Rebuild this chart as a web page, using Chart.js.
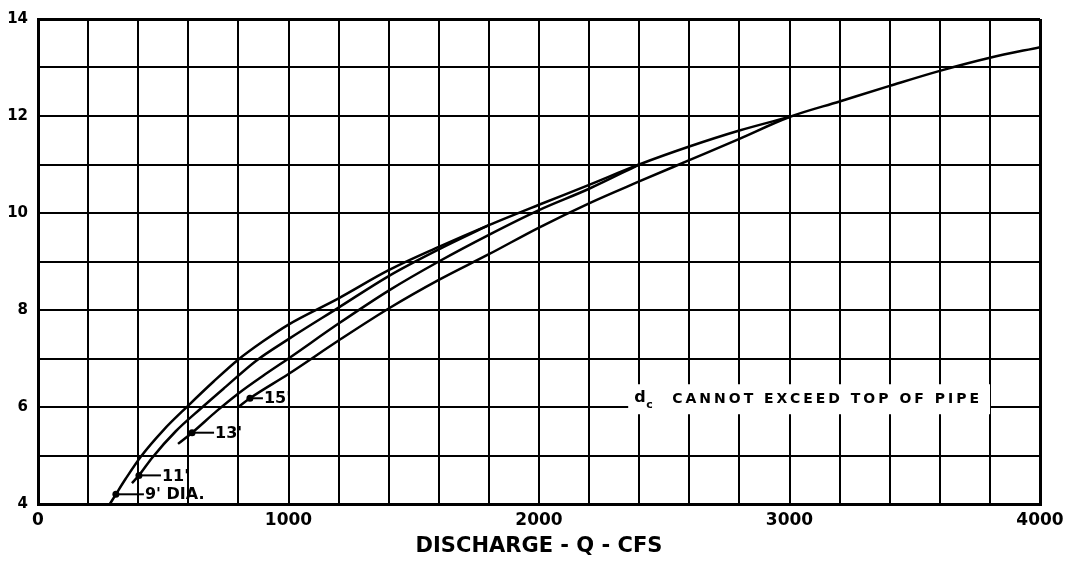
<!DOCTYPE html>
<html>
<head>
<meta charset="utf-8">
<script src="https://cdn.jsdelivr.net/npm/chart.js@4/dist/chart.umd.min.js"></script>
<style>
  html, body { margin: 0; padding: 0; background: #fff; }
  #wrap { width: 1073px; height: 561px; }
</style>
</head>
<body>
<div id="wrap"><canvas id="chart"></canvas></div>
<script>
// Critical depth vs discharge for circular pipes

const pipeLabels = ["9' DIA.", "11'", "13'", "15'"];

// discharge (cfs) and depth (ft) along each curve
const q9  = [287, 311, 350, 411, 500, 600, 700, 800, 900, 1000, 1200, 1400, 1600, 1800, 2000, 2200, 2400, 2600, 2800, 3000];
const d9  = [4.0, 4.2, 4.52, 4.98, 5.52, 6.03, 6.52, 6.98, 7.36, 7.7, 8.24, 8.82, 9.3, 9.75, 10.17, 10.58, 11.0, 11.37, 11.7, 11.98];

const q11 = [375, 403, 455, 550, 650, 750, 870, 1000, 1200, 1400, 1600, 1800];
const d11 = [4.43, 4.59, 4.95, 5.5, 5.97, 6.42, 6.95, 7.4, 8.05, 8.7, 9.25, 9.75];

const q13 = [559, 615, 714, 800, 900, 1000, 1200, 1400, 1600, 1800, 2000, 2200, 2400];
const d13 = [5.24, 5.47, 5.92, 6.28, 6.65, 7.0, 7.72, 8.4, 9.0, 9.55, 10.06, 10.5, 11.0];

const q15 = [800, 846, 1000, 1200, 1400, 1600, 1800, 2000, 2200, 2400, 2600, 2800, 3000, 3200, 3400, 3600, 3800, 4000];
const d15 = [6.0, 6.18, 6.68, 7.37, 8.03, 8.62, 9.15, 9.7, 10.2, 10.65, 11.09, 11.53, 11.98, 12.3, 12.62, 12.93, 13.2, 13.42];

// labelled dot on each curve
const tagQ = [311, 403, 615, 846];
const tagD = [4.2, 4.59, 5.47, 6.18];

const xTicks = [0, 1000, 2000, 3000, 4000];
const yTicks = [4, 6, 8, 10, 12, 14];

const noteText = 'CANNOT EXCEED TOP OF PIPE';

const FONT = '"DejaVu Sans", sans-serif';

function pts(qs, ds) {
    return qs.map((q, i) => ({ x: q, y: ds[i] }));
}

function curve(qs, ds) {
    return {
        data: pts(qs, ds),
        borderColor: '#000',
        borderWidth: 2.5,
        pointRadius: 0,
        fill: false,
        cubicInterpolationMode: 'monotone'
    };
}

// dots, leaders and the diameter labels, plus the boxed note
const annotations = {
    id: 'annotations',
    afterDatasetsDraw(chart) {
        const { ctx, scales: { x, y } } = chart;
        const leader = [28, 22, 22, 13];
        ctx.save();
        ctx.fillStyle = '#000';
        ctx.strokeStyle = '#000';
        ctx.lineWidth = 2;
        ctx.textBaseline = 'middle';
        ctx.font = 'bold 16px ' + FONT;
        tagQ.forEach((q, i) => {
            const px = x.getPixelForValue(q);
            const py = y.getPixelForValue(tagD[i]);
            ctx.beginPath();
            ctx.arc(px, py, 3.5, 0, Math.PI * 2);
            ctx.fill();
            ctx.beginPath();
            ctx.moveTo(px, py);
            ctx.lineTo(px + leader[i], py);
            ctx.stroke();
            ctx.fillText(pipeLabels[i], px + leader[i] + 1, py + 1);
        });

        // note: d with subscript c, then the text, on a white box
        const nx = x.getPixelForValue(2380);
        const ny = y.getPixelForValue(6.16);
        ctx.font = 'bold 14px ' + FONT;
        ctx.letterSpacing = '3px';
        const tw = ctx.measureText(noteText).width;
        const tx = nx + 38;
        ctx.fillStyle = '#fff';
        ctx.fillRect(nx - 6, ny - 15, (tx + tw + 8) - (nx - 6), 30);
        ctx.fillStyle = '#000';
        ctx.fillText(noteText, tx, ny);
        ctx.letterSpacing = '0px';
        ctx.font = 'bold 16px ' + FONT;
        ctx.fillText('d', nx, ny - 1);
        ctx.font = 'bold 11px ' + FONT;
        ctx.fillText('c', nx + 12, ny + 6);
        ctx.restore();
    }
};

const edgeWidth = (edges) => (c) => (c.tick && edges.includes(c.tick.value) ? 3 : 2);

new Chart(document.getElementById('chart'), {
    type: 'line',
    data: {
        datasets: [curve(q9, d9), curve(q11, d11), curve(q13, d13), curve(q15, d15)]
    },
    options: {
        responsive: true,
        maintainAspectRatio: false,
        animation: false,
        layout: { padding: { top: 14, right: 33, left: 0, bottom: 0 } },
        plugins: {
            legend: { display: false },
            tooltip: { enabled: false }
        },
        scales: {
            x: {
                type: 'linear',
                min: 0,
                max: 4000,
                afterFit: (s) => { s.height = 57; },
                border: { display: true, color: '#000', width: 3 },
                grid: { color: '#000', lineWidth: edgeWidth([0, 4000]), drawTicks: false },
                ticks: {
                    stepSize: 200,
                    autoSkip: false,
                    maxRotation: 0,
                    padding: 6,
                    color: '#000',
                    font: { family: FONT, size: 17, weight: 'bold' },
                    callback: (v) => (xTicks.includes(v) ? String(v) : '')
                },
                title: {
                    display: true,
                    text: 'DISCHARGE - Q - CFS',
                    color: '#000',
                    font: { family: FONT, size: 21, weight: 'bold' },
                    padding: { top: 0, bottom: 2 }
                }
            },
            y: {
                min: 4,
                max: 14,
                afterFit: (s) => { s.width = 38; },
                border: { display: true, color: '#000', width: 3 },
                grid: { color: '#000', lineWidth: edgeWidth([4, 14]), drawTicks: false },
                ticks: {
                    stepSize: 1,
                    autoSkip: false,
                    padding: 10,
                    color: '#000',
                    font: { family: FONT, size: 15, weight: 'bold' },
                    callback: (v) => (yTicks.includes(v) ? String(v) : '')
                }
            }
        }
    },
    plugins: [annotations]
});
</script>
</body>
</html>
